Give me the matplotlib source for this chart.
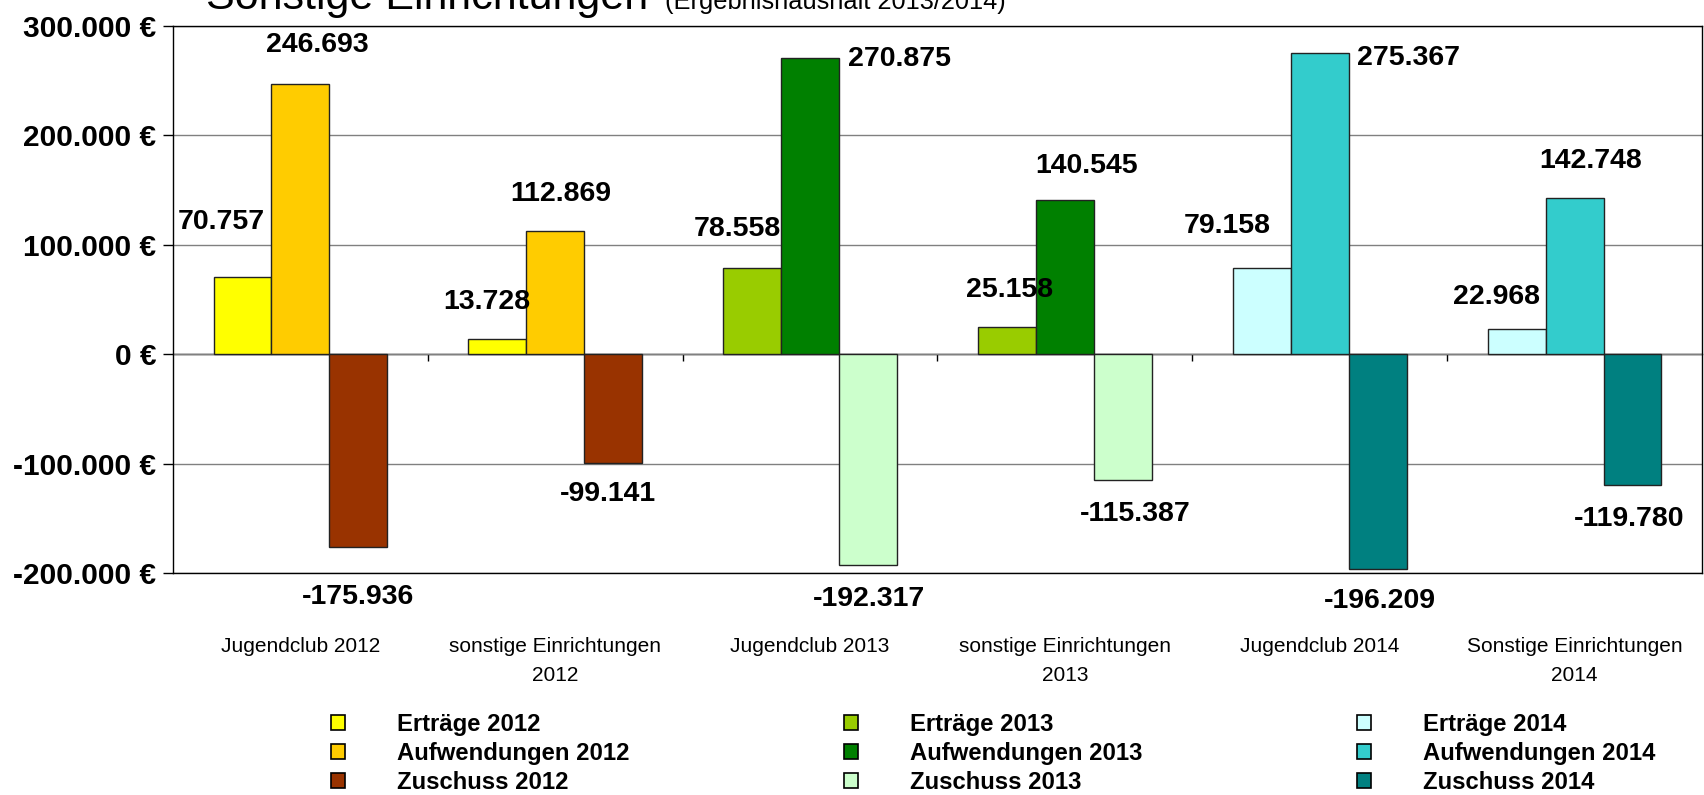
"""Sonstige Einrichtungen: Erträge / Aufwendungen / Zuschuss je Einrichtung und Jahr."""
import matplotlib
matplotlib.use("Agg")
import matplotlib.pyplot as plt                 # noqa: E402
from matplotlib.patches import Patch            # noqa: E402
from matplotlib.ticker import FuncFormatter     # noqa: E402

plt.rcParams["font.family"] = ["Liberation Sans", "DejaVu Sans"]

CATEGORIES = ["Jugendclub 2012", "sonstige Einrichtungen\n2012",
              "Jugendclub 2013", "sonstige Einrichtungen\n2013",
              "Jugendclub 2014", "Sonstige Einrichtungen\n2014"]
YEARS = [2012, 2012, 2013, 2013, 2014, 2014]
ERTRAEGE = [70757, 13728, 78558, 25158, 79158, 22968]
AUFWENDUNGEN = [246693, 112869, 270875, 140545, 275367, 142748]
ZUSCHUSS = [-175936, -99141, -192317, -115387, -196209, -119780]
SERIES = ["Erträge", "Aufwendungen", "Zuschuss"]

# one colour family per year, order: Erträge, Aufwendungen, Zuschuss
COLORS = {
    2012: ["#ffff00", "#ffcc00", "#993300"],
    2013: ["#99cc00", "#008000", "#ccffcc"],
    2014: ["#ccffff", "#33cccc", "#008080"],
}
# hand-placed label offsets (pixels) from the bar end, as in the original sheet
LABEL_OFFSETS = [
    [(-21, 55), (17, 39), (0, -50)],
    [(-11, 37), (5, 37), (-5, -31)],
    [(-15, 39), (89, -1), (1, -34)],
    [(2, 37), (22, 34), (12, -34)],
    [(-35, 42), (89, -5), (2, -32)],
    [(-20, 32), (16, 37), (-3, -34)],
]
BAR_W = 0.227


def de_num(v):
    return f"{v:,.0f}".replace(",", ".")


fig = plt.figure(figsize=(17.04, 7.95), dpi=100)
ax = fig.add_axes([173 / 1704, 1 - 573 / 795, (1702 - 173) / 1704, (573 - 26) / 795])

for i, year in enumerate(YEARS):
    vals = [ERTRAEGE[i], AUFWENDUNGEN[i], ZUSCHUSS[i]]
    for j, v in enumerate(vals):
        x = i + (j - 1) * BAR_W
        ax.bar(x, v, width=BAR_W, color=COLORS[year][j], edgecolor="#222222",
               linewidth=1.0, zorder=3)
        dx, dy = LABEL_OFFSETS[i][j]
        ax.annotate(de_num(v), (x, v), xytext=(dx, dy), textcoords="offset pixels",
                    ha="center", va="center", fontsize=20.5, fontweight="bold",
                    zorder=5, annotation_clip=False)

ax.set_xlim(-0.5, 5.5)
ax.set_ylim(-200000, 300000)
ax.set_yticks(range(-200000, 300001, 100000))
ax.yaxis.set_major_formatter(FuncFormatter(lambda v, _: f"{de_num(v)} €"))
ax.tick_params(axis="y", direction="out", length=7, width=1, pad=5,
               labelsize=21.5)
for lab in ax.get_yticklabels():
    lab.set_fontweight("bold")
ax.yaxis.grid(True, color="#808080", lw=1.0, zorder=1)

ax.set_xticks(range(len(CATEGORIES)))
ax.set_xticklabels(CATEGORIES, fontsize=15, linespacing=1.65)
ax.tick_params(axis="x", length=0, pad=46)

for s in ax.spines.values():
    s.set_color("black")
    s.set_linewidth(1.0)
    s.set_zorder(4)

# horizontal category axis crossing at 0 with boundary tick marks
zero = ax.secondary_xaxis(0.4)
zero.set_xticks([k + 0.5 for k in range(len(CATEGORIES) - 1)])
zero.set_xticklabels([])
zero.tick_params(direction="out", length=5, width=1, colors="black")
zero.spines["bottom"].set_linewidth(1.0)
zero.spines["bottom"].set_color("black")

fig.text(206 / 1704, 1 - 9 / 795, "Sonstige Einrichtungen", fontsize=31,
         va="baseline", ha="left")
fig.text(665 / 1704, 1 - 9 / 795, "(Ergebnishaushalt 2013/2014)", fontsize=18.3,
         va="baseline", ha="left")

for k, year in enumerate([2012, 2013, 2014]):
    handles = [Patch(facecolor=c, edgecolor="black", linewidth=1.2)
               for c in COLORS[year]]
    labels = [f"{s} {year}" for s in SERIES]
    fig.legend(handles, labels, loc="upper left",
               bbox_to_anchor=((331 + 513 * k) / 1704, 1 - 713 / 795),
               frameon=False, borderpad=0, borderaxespad=0,
               handlelength=0.6, handleheight=0.6, handletextpad=2.15,
               labelspacing=0.25, prop={"size": 17.2, "weight": "bold"})

fig.savefig("out.png", dpi=100)
